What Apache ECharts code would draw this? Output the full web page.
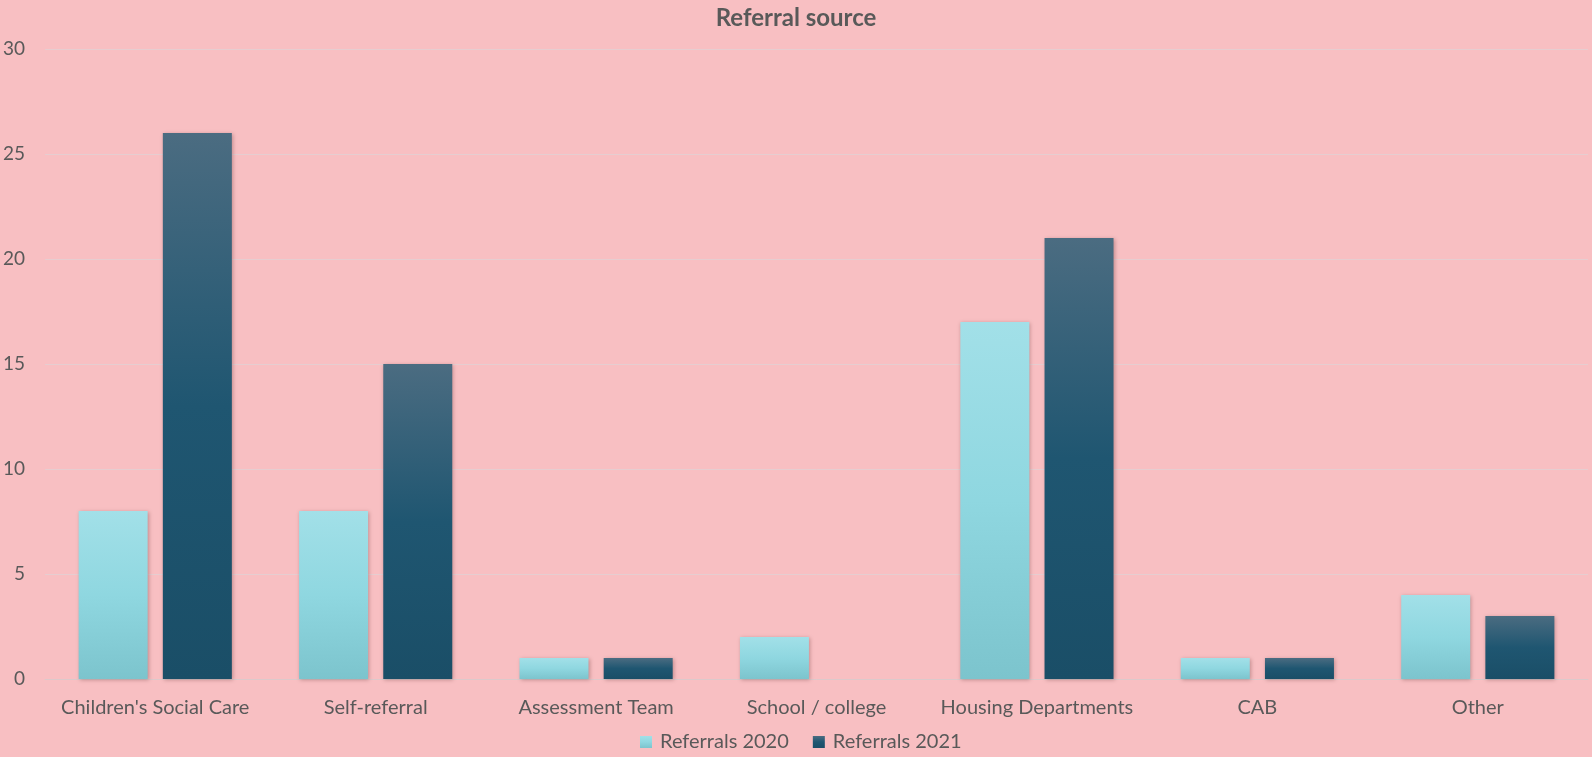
<!DOCTYPE html>
<html>
<head>
<meta charset="utf-8">
<script src="https://cdn.jsdelivr.net/npm/echarts@6/dist/echarts.min.js"></script>
<style>
  html, body { margin: 0; padding: 0; background: #f8bfc2; }
  #chart { width: 1592px; height: 757px; }
</style>
</head>
<body>
<div id="chart"></div>
<script>
const categories = ['Children\'s Social Care', 'Self-referral', 'Assessment Team', 'School / college', 'Housing Departments', 'CAB', 'Other'];
const referrals2020 = [8, 8, 1, 2, 17, 1, 4];
const referrals2021 = [26, 15, 1, 0, 21, 1, 3];
const seriesNames = ['Referrals 2020', 'Referrals 2021'];

const font = 'Lato, "Open Sans", sans-serif';
const textColor = '#595959';

function vGrad(stops) {
  return new echarts.graphic.LinearGradient(0, 0, 0, 1,
    stops.map(([offset, color]) => ({ offset, color })));
}

const lightFill = vGrad([[0, '#a2e0e8'], [0.5, '#8fd7e0'], [1, '#7cc4cd']]);
const darkFill = vGrad([[0, '#4b6c81'], [0.5, '#1f5671'], [1, '#1a4e67']]);

const barShadow = {
  shadowBlur: 4,
  shadowColor: 'rgba(90,40,40,0.35)',
  shadowOffsetX: 1,
  shadowOffsetY: 1
};

const chart = echarts.init(document.getElementById('chart'), null, { renderer: 'canvas' });
chart.setOption({
  backgroundColor: '#f8bfc2',
  animation: false,
  title: {
    text: 'Referral source',
    left: 'center',
    top: 1,
    textStyle: { fontFamily: font, fontSize: 24, fontWeight: 'bold', color: textColor }
  },
  legend: {
    bottom: 0,
    left: 635,
    itemWidth: 12,
    itemHeight: 12,
    itemGap: 24,
    icon: 'rect',
    textStyle: { fontFamily: font, fontSize: 20, color: textColor, padding: [0, 0, 0, 3] },
    data: seriesNames
  },
  grid: { left: 45, right: 4, top: 49, bottom: 78 },
  xAxis: {
    type: 'category',
    data: categories,
    axisLine: { lineStyle: { color: '#dcc9cb', width: 1 } },
    axisTick: { show: false },
    axisLabel: { fontFamily: font, fontSize: 20, color: textColor, margin: 19, interval: 0 }
  },
  yAxis: {
    type: 'value',
    min: 0,
    max: 30,
    interval: 5,
    axisLine: { show: false },
    axisTick: { show: false },
    splitLine: { lineStyle: { color: '#e6cdd0', width: 1 } },
    axisLabel: { fontFamily: font, fontSize: 19, color: textColor, margin: 20 }
  },
  series: [
    {
      name: seriesNames[0],
      type: 'bar',
      data: referrals2020,
      barWidth: 69,
      barGap: '22%',
      itemStyle: Object.assign({ color: lightFill }, barShadow)
    },
    {
      name: seriesNames[1],
      type: 'bar',
      data: referrals2021,
      barWidth: 69,
      itemStyle: Object.assign({ color: darkFill }, barShadow)
    }
  ]
});
</script>
</body>
</html>
